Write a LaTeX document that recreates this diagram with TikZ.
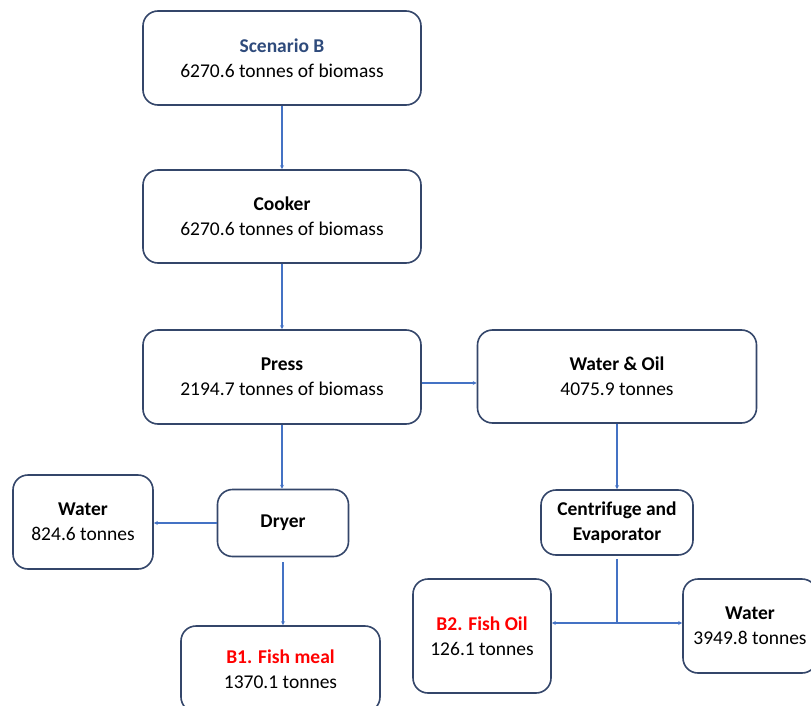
\documentclass[tikz,border=0pt]{standalone}
\usepackage{fontspec}
\setmainfont{Carlito}
\usetikzlibrary{arrows.meta}
\definecolor{boxline}{HTML}{34466A}
\definecolor{conn}{HTML}{4472C4}
\definecolor{scen}{HTML}{2F4B7C}
\definecolor{prodred}{HTML}{FF0000}
\begin{document}
\begin{tikzpicture}[x=1pt,y=-1pt,
  box/.style={draw=boxline, line width=1.6pt, rounded corners=15pt, fill=white,
    align=center, inner sep=0pt, font=\fontsize{19.5}{25}\selectfont},
  link/.style={draw=conn, line width=1.4pt},
  flow/.style={link, -{Stealth[length=4pt,width=4pt]}}]
\useasboundingbox (0,0) rectangle (811,706);
\clip (0,0) rectangle (811,706);
\fill[white] (0,0) rectangle (811,706);

\node[box, minimum width=278pt, minimum height=94pt] (scen) at (282,58)
  {{\bfseries\color{scen}Scenario B}\\6270.6 tonnes of biomass};
\node[box, minimum width=278pt, minimum height=93pt] (cook) at (282,216.5)
  {\bfseries Cooker\\6270.6 tonnes of biomass};
\node[box, minimum width=278pt, minimum height=94pt] (press) at (282,377)
  {\textbf{Press}\\2194.7 tonnes of biomass};
\node[box, minimum width=279pt, minimum height=93pt] (wo) at (617,376.5)
  {\textbf{Water \& Oil}\\4075.9 tonnes};
\node[box, minimum width=131pt, minimum height=67pt] (dryer) at (283,523)
  {\textbf{Dryer}};
\node[box, minimum width=140pt, minimum height=94pt] (wl) at (83,522)
  {\textbf{Water}\\824.6 tonnes};
\node[box, minimum width=152pt, minimum height=65pt] (cent) at (617,522.5)
  {\textbf{Centrifuge and}\\\textbf{Evaporator}};
\node[box, minimum width=199pt, minimum height=86pt] (meal) at (280.5,669)
  {{\bfseries\color{prodred}B1. Fish meal}\\1370.1 tonnes};
\node[box, minimum width=138pt, minimum height=114pt] (fo) at (482,636)
  {{\bfseries\color{prodred}B2. Fish Oil}\\126.1 tonnes};
\node[box, minimum width=134pt, minimum height=94pt] (wr) at (750,626)
  {\textbf{Water}\\3949.8 tonnes};

\draw[flow] (scen) -- (cook);
\draw[flow] (cook) -- (press);
\draw[flow] (press.south) -- (press.south |- dryer.north);
\draw[flow] ([yshift=-6pt]press.east) -- ([yshift=-6pt]press.east -| wo.west);
\draw[flow] (dryer.west) -- (dryer.west -| wl.east);
\draw[flow, shorten <=5pt] (dryer.south) -- (dryer.south |- meal.north);
\draw[flow] (wo.south) -- (wo.south |- cent.north);
\coordinate (j) at (cent.south |- 0,623);
\draw[link, shorten <=3pt] (cent.south) -- (j);
\draw[flow] (j) -- (j -| fo.east);
\draw[flow] (j) -- (j -| wr.west);
\end{tikzpicture}
\end{document}
